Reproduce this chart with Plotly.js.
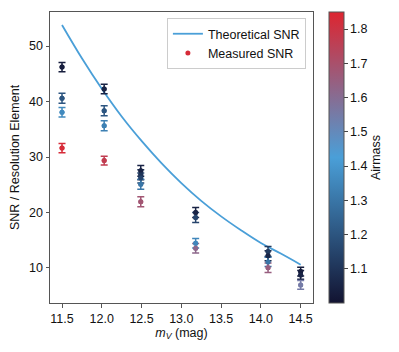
<!DOCTYPE html>
<html>
<head>
<meta charset="utf-8">
<script src="https://cdn.plot.ly/plotly-3.0.1.min.js"></script>
<style>html,body{margin:0;padding:0;background:#fff;}#chart{width:399px;height:352px;}</style>
</head>
<body>
<div id="chart"></div>
<script>
// Theoretical SNR curve
const theoMag = [11.5, 11.75, 12.0, 12.25, 12.5, 12.75, 13.0, 13.25, 13.5, 13.75, 14.0, 14.25, 14.5];
const theoSNR = [53.8, 47.8, 42.3, 37.3, 32.9, 28.9, 25.3, 22.1, 19.3, 16.8, 14.5, 12.6, 10.6];

// Measured SNR points
const measMag = [11.5, 11.5, 11.5, 11.5,
                 12.03, 12.03, 12.03, 12.03,
                 12.49, 12.49, 12.49, 12.49, 12.49,
                 13.18, 13.18, 13.18, 13.18,
                 14.09, 14.09, 14.09, 14.09,
                 14.5, 14.5, 14.5];
const measSNR = [31.6, 46.2, 40.6, 38.05,
                 42.25, 38.35, 35.65, 29.35,
                 27.5, 26.8, 26.2, 25.1, 21.95,
                 20.0, 19.1, 14.45, 13.55,
                 12.95, 12.2, 11.1, 10.05,
                 9.35, 8.75, 6.95];
const measErr = [0.85, 0.85, 0.9, 0.85,
                 0.85, 0.9, 0.9, 0.8,
                 0.95, 0.9, 0.9, 0.9, 0.9,
                 0.9, 0.9, 0.85, 0.85,
                 0.9, 0.9, 0.85, 0.85,
                 0.8, 0.8, 0.8];
const airmass = [1.83, 1.03, 1.20, 1.36,
                 1.05, 1.20, 1.33, 1.77,
                 1.05, 1.10, 1.15, 1.30, 1.68,
                 1.05, 1.15, 1.35, 1.62,
                 1.12, 1.06, 1.30, 1.65,
                 1.03, 1.05, 1.55];

const cbTicks = [1.1, 1.2, 1.3, 1.4, 1.5, 1.6, 1.7, 1.8];
const xTicks = [11.5, 12.0, 12.5, 13.0, 13.5, 14.0, 14.5];
const yTicks = [10, 20, 30, 40, 50];

const cmin = 1.0, cmax = 1.85;
const cscale = [[0, '#121331'], [0.5, '#4a9fd8'], [1, '#dd2530']];

function hex2rgb(h){return [parseInt(h.slice(1,3),16),parseInt(h.slice(3,5),16),parseInt(h.slice(5,7),16)];}
function colorAt(v){
  let t = (v - cmin) / (cmax - cmin); t = Math.max(0, Math.min(1, t));
  for (let i = 0; i < cscale.length - 1; i++) {
    const [t0, c0] = cscale[i], [t1, c1] = cscale[i+1];
    if (t <= t1) {
      const f = (t - t0) / (t1 - t0), a = hex2rgb(c0), b = hex2rgb(c1);
      return 'rgb(' + a.map((x, k) => Math.round(x + (b[k] - x) * f)).join(',') + ')';
    }
  }
  return cscale[cscale.length-1][1];
}

const font = 'Liberation Sans, Arial, sans-serif';
const FS = 12.5;
const traces = [];
traces.push({
  x: theoMag, y: theoSNR, type: 'scatter', mode: 'lines', name: 'Theoretical SNR',
  line: {color: '#4a9fd8', width: 1.8, shape: 'spline'}
});
for (let i = 0; i < measMag.length; i++) {
  const c = colorAt(airmass[i]);
  traces.push({
    x: [measMag[i]], y: [measSNR[i]], type: 'scatter', mode: 'markers', showlegend: false,
    marker: {color: c, size: 5},
    error_y: {type: 'data', array: [measErr[i]], visible: true, color: c, thickness: 1.5, width: 3.5},
    hoverinfo: 'skip'
  });
}
traces.push({
  x: measMag, y: measSNR, type: 'scatter', mode: 'markers', name: 'Measured SNR',
  marker: {
    color: airmass, colorscale: cscale, cmin: cmin, cmax: cmax, size: 5, showscale: true,
    colorbar: {
      x: 1.061, xanchor: 'left', xref: 'paper', y: 0, yanchor: 'bottom', len: 1, lenmode: 'fraction',
      thickness: 15, thicknessmode: 'pixels', outlinewidth: 1, outlinecolor: '#555',
      tickvals: cbTicks, ticktext: cbTicks.map(v => v.toFixed(1)),
      ticks: 'outside', ticklen: 3.5, tickcolor: '#444', tickwidth: 1,
      tickfont: {family: font, size: FS, color: '#111'},
      title: {text: 'Airmass', side: 'right', font: {family: font, size: FS, color: '#111'}},
      xpad: 0, ypad: 0
    }
  }
});

const layout = {
  width: 399, height: 352,
  margin: {l: 50, r: 86, t: 12, b: 49},
  paper_bgcolor: '#fff', plot_bgcolor: '#fff',
  font: {family: font, size: FS, color: '#111'},
  xaxis: {
    range: [11.349, 14.655], tickvals: xTicks, ticktext: xTicks.map(v => v.toFixed(1)),
    showgrid: false, zeroline: false, showline: true, mirror: true, linecolor: '#555', linewidth: 1,
    ticks: 'outside', ticklen: 3.5, tickcolor: '#555', tickwidth: 1,
    tickfont: {family: font, size: FS, color: '#111'},
    title: {text: '<i>m</i><sub><i>V</i></sub> (mag)', font: {family: font, size: FS, color: '#111'}, standoff: 1}
  },
  yaxis: {
    range: [3.69, 56.13], tickvals: yTicks,
    showgrid: false, zeroline: false, showline: true, mirror: true, linecolor: '#555', linewidth: 1,
    ticks: 'outside', ticklen: 3.5, tickcolor: '#555', tickwidth: 1,
    tickfont: {family: font, size: FS, color: '#111'},
    title: {text: 'SNR / Resolution Element', font: {family: font, size: FS, color: '#111'}, standoff: 6}
  },
  legend: {
    x: 0.973, xanchor: 'right', y: 0.979, yanchor: 'top',
    bgcolor: '#fff', bordercolor: '#ccc', borderwidth: 1,
    font: {family: font, size: FS, color: '#111'}
  },
  showlegend: true
};

Plotly.newPlot('chart', traces, layout, {displayModeBar: false, staticPlot: true});
</script>
</body>
</html>
